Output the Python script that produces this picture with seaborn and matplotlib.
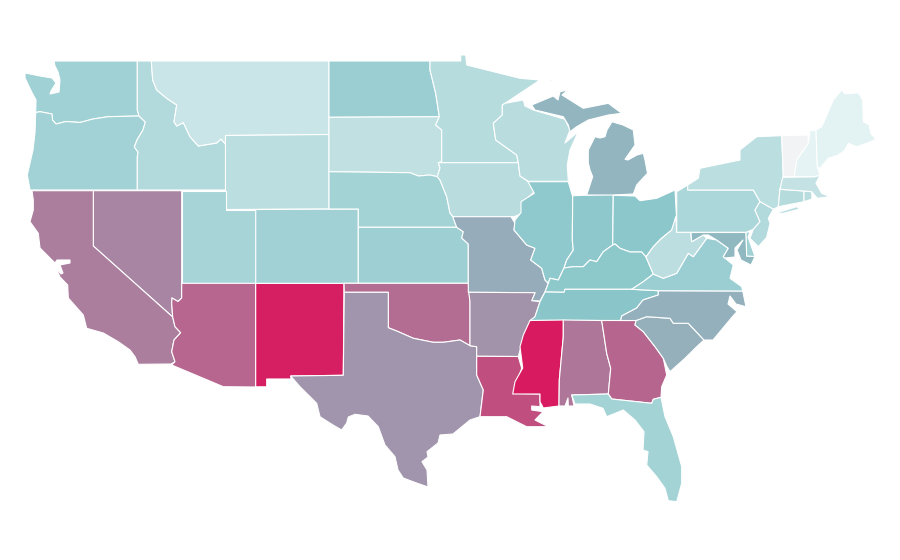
import matplotlib
matplotlib.use("Agg")
import matplotlib.pyplot as plt
import numpy as np
import seaborn as sns
from matplotlib.collections import PolyCollection
from matplotlib.colors import Normalize

# state value, 0-100 index read from the fill colours (VT has no value, drawn grey)
values = {
    "WA": 40.6, "OR": 39.7, "ID": 33, "MT": 23, "WY": 29, "UT": 38, "NV": 69, "CA": 71, "AZ": 78,
    "NM": 98.5, "CO": 40, "ND": 42.7, "SD": 27, "NE": 39, "KS": 42, "OK": 76, "TX": 64.3,
    "MN": 31, "IA": 30, "MO": 57.6, "AR": 65, "LA": 84.5, "WI": 30, "IL": 47.4, "IN": 48,
    "MI": 55, "OH": 49, "KY": 48.7, "TN": 50, "MS": 100, "AL": 73.4, "GA": 78.4, "FL": 39,
    "SC": 57, "NC": 56.4, "VA": 42.7, "WV": 28.6, "MD": 54, "DE": 40.6, "PA": 35.5, "NY": 29,
    "NJ": 33, "CT": 32, "RI": 30, "MA": 25, "VT": np.nan, "NH": 10.7, "ME": 12,
}

# state outlines in map units (y runs downward)
outlines = {
    "WA": [[(54,61),(137.3,61),(137.3,110),(139,116),(108,116.7),(93,119),(80,122.5),(66,121.5),(56,124),(52.5,120),(52,114),(40,111.7),(35.7,112.5),(36,100),(31.7,92),(25,78),(25,73),(40,76),(52,78),(56,83),(51,91),(50,94),(59,92),(60,80),(58,72),(55,66)]],
    "OR": [[(35.7,112.5),(40,111.7),(52,114),(52.5,120),(56,124),(66,121.5),(80,122.5),(93,119),(108,116.7),(139,116),(145.3,122),(143,130),(137,140),(134.3,147),(138,152),(137.3,157),(137.3,190),(30,190),(27.3,175),(30,163),(33,150),(35,133)]],
    "ID": [[(137.3,61),(151.3,61),(152.7,80),(156.7,90),(166.7,98.3),(176.7,105),(174,121.7),(176.7,126),(183.3,122.7),(190,136.7),(198.3,146),(216.7,143),(221,139),(225.5,144.3),(225.5,190),(137.3,190),(137.3,157),(138,152),(134.3,147),(137,140),(143,130),(145.3,122),(139,116),(137.3,110)]],
    "MT": [[(151.3,61),(329,61),(329,134.5),(225.5,135.5),(225.5,144.3),(221,139),(216.7,143),(198.3,146),(190,136.7),(183.3,122.7),(176.7,126),(174,121.7),(176.7,105),(166.7,98.3),(156.7,90),(152.7,80)]],
    "WY": [[(225.5,135.5),(329,134.5),(329,209),(225.5,209.5)]],
    "UT": [[(181.7,190.5),(225.5,190.5),(225.5,209.5),(255.7,209.5),(255.7,283.3),(181.7,283.3)]],
    "NV": [[(93.3,190.7),(181.7,190.7),(181.7,298),(178,301.5),(172,298),(171.7,303.3),(172.7,317),(93.3,246)]],
    "CA": [[(32,190.7),(93.3,190.7),(93.3,246),(172.7,317),(175,326.7),(180.7,332.7),(174,340),(171.7,351.7),(175,361.7),(171,364),(138.3,364.3),(135,356.7),(130,350),(118.3,341.7),(103.3,333),(86.7,328.3),(83.3,315),(68.3,298),(67.7,285),(60,277),(56,268),(61,274),(63,273),(60,265),(70,263),(70,260),(57,260),(55,263),(40,248),(38.3,233.3),(30,221.7),(33.3,210),(33.3,200)]],
    "AZ": [[(181.7,283.3),(255.7,283.3),(255.7,387),(223.3,386.7),(171.7,365),(175,361.7),(171.7,351.7),(174,340),(180.7,332.7),(175,326.7),(172.7,317),(171.7,303.3),(172,298),(178,301.5),(181.7,298)]],
    "NM": [[(255.7,283.3),(344,283.3),(343.3,375.3),(290.7,376),(291,379),(266.7,379),(266.7,386.8),(255.7,386.8)]],
    "CO": [[(255.7,209.5),(358.3,209),(358.3,283.3),(255.7,283.3)]],
    "ND": [[(329,61),(430,61),(430,70),(435.7,93.3),(439.3,116.7),(329,117.3)]],
    "SD": [[(329,117.3),(439.3,116.7),(435.7,125),(441.7,130),(441.7,161.7),(438.3,162.7),(440,168),(437.3,176.7),(430,175),(418.3,176),(410,172.7),(329,171.7)]],
    "NE": [[(329,171.7),(410,172.7),(418.3,176),(430,175),(437.3,176.7),(440,180),(446.7,196.7),(450,213),(453,216.7),(456.7,227.3),(358.3,227.3),(358.3,209),(329,209)]],
    "KS": [[(358.3,227.3),(456.7,227.3),(463.3,231.7),(461.7,238),(468.3,244),(468.3,283.3),(358.3,283.3)]],
    "OK": [[(344,283.3),(468.3,283.3),(470,301.7),(470,345.7),(460,340),(443.3,342.3),(433.3,342.3),(413.3,338.3),(398.3,331.7),(388.3,327.7),(388.3,292.3),(344.3,292.3)]],
    "TX": [[(344.3,292.3),(388.3,292.3),(388.3,327.7),(398.3,331.7),(413.3,338.3),(433.3,342.3),(443.3,342.3),(460,340),(470,345.7),(476.7,346.7),(476.7,375),(483.3,390),(480,416.7),(470,420),(453,434),(440,435),(438,443),(427,451.7),(428,457),(422,461.7),(427,470),(428,487),(413,481.7),(403.3,478),(398,470),(395,456.7),(385,445),(378.3,426.7),(368,416),(355,414.3),(348.3,417),(346.7,423),(341.7,430),(333,425),(320,416.7),(316.7,403.3),(300,386.7),(290.7,376),(343.3,375.3)]],
    "MN": [[(430,61),(460.7,61),(460.7,55),(465.7,55),(466.7,65),(500,73.3),(520,78.3),(540,80),(505,103.3),(502.3,105),(502.3,115),(493.3,123.3),(495.7,140),(516.7,155),(518.3,162.7),(438.3,162.7),(441.7,161.7),(441.7,130),(435.7,125),(439.3,116.7),(435.7,93.3),(430,70)]],
    "IA": [[(438.3,162.7),(518.3,162.7),(520,176),(528.3,181.7),(534.3,191.7),(521.7,203.3),(521.7,213.3),(514.3,216.7),(453,216.7),(450,213),(446.7,196.7),(440,180),(437.3,176.7),(440,168)]],
    "MO": [[(452.7,216.7),(511,216.7),(515,223.3),(514,230),(526.7,245),(535,248.3),(530.7,260),(541.7,268.3),(545,280),(548.3,283.3),(545,292),(540,301),(531.7,300.7),(535,292.7),(468.3,292.3),(468.3,244),(461.7,238),(463.3,231.7),(456.7,227.3)]],
    "AR": [[(468.7,292.3),(535,292.7),(531.7,300.7),(540,301.7),(535,316.7),(528.3,325),(523.3,338.3),(518.3,356.5),(476.7,356.3),(476.7,346.7),(470,345.7),(470,301.7)]],
    "LA": [[(476.7,356.3),(518.3,356.5),(521.7,368.3),(513.3,393.3),(540,394),(540,406.7),(531.7,406),(531.7,410),(543,411.7),(535,420),(548.3,426.7),(526.7,426.7),(506.7,416.7),(480,416.7),(483.3,390),(476.7,375)]],
    "WI": [[(502.3,105),(505,103.3),(523.3,100),(525,106),(533.3,110),(565,119.3),(570,130),(565,143),(578.3,131.7),(570,150),(567.3,165),(568.3,181.3),(528.3,181.3),(520,176),(518.3,162.7),(516.7,155),(495.7,140),(493.3,123.3),(502.3,115)]],
    "IL": [[(528,181.7),(568.3,181.7),(572.7,196.7),(572.3,240),(573.3,250),(566.7,260),(564,268),(558.3,280),(550,278.3),(548.3,283.3),(545,280),(541.7,268.3),(530.7,260),(535,248.3),(526.7,245),(514,230),(515,220),(521,212.7),(521,201.7),(534.3,193.3)]],
    "IN": [[(572.7,195.7),(613.3,194.3),(612.7,245),(603.3,251.7),(596.7,261.7),(590,260),(583.3,266.7),(573.3,266.7),(564,268),(566.7,260),(573.3,250),(572.3,240)]],
    "MI": [[(531.7,105),(553.3,96),(558,100),(560,91.7),(568,90),(562,95),(570,100),(583.3,108.3),(608.3,103.3),(621.7,113.3),(608.3,115),(588.3,120),(576.7,126.7),(570,131.7),(568.3,125),(563.3,116.7),(535,110)],
           [(588.3,150),(595,136.7),(600,138),(605,136.7),(607,130),(612,121.7),(623,125),(633.3,130),(635,145),(625,159.3),(628,160),(637,155),(643.3,153.3),(645,160),(647.5,173.3),(643,178),(636.7,185),(633.3,194),(613.3,195),(586.7,195),(592.7,176.7),(590,170),(588.3,163)],
           [(549,81),(556,78),(556,79),(550,82)]],
    "OH": [[(613.3,195.3),(635,196),(640,200.7),(656.7,198.3),(675,190),(676.5,217),(671.7,230),(661.7,238),(653.3,246.7),(646,257),(641.7,252),(630,252),(620,248.3),(615,244),(612.7,245)]],
    "KY": [[(564,268),(573.3,266.7),(583.3,266.7),(590,260),(596.7,261.7),(603.3,251.7),(612.7,245),(615,244),(620,248.3),(630,252),(641.7,252),(646,257),(653.3,274),(643.3,281.7),(631.7,289.3),(565,289.3),(564,292.3),(545,292),(548.3,283.3),(550,278.3),(558.3,280)]],
    "TN": [[(545,292),(564,292.3),(565,289.3),(631.7,289.3),(658.3,290.7),(658.3,295),(643,300),(636.7,308),(621.7,316),(620.7,320.5),(530,320.5),(535,316.7),(540,301.7)]],
    "MS": [[(530,320.5),(563.3,320),(563.3,336.7),(559.3,380),(559,406),(543.3,408),(540,401.7),(540,394),(512.7,394),(515,381.7),(522.7,368),(520,346.7),(523.3,335)]],
    "AL": [[(563.3,320),(601.7,320.5),(606.7,353.3),(610.7,368.3),(608.3,394),(571.7,395),(574,406),(568.3,406),(568,398),(565,406),(559,406),(559.3,380),(563.3,336.7)]],
    "GA": [[(601.7,320.5),(636,320.5),(635,325),(643.3,331.7),(655,346.7),(663.3,358.3),(666.7,375),(661.7,386.7),(661,397.3),(653.3,399.3),(651.7,403.3),(611.7,399),(608.3,394),(610.7,368.3),(606.7,353.3)]],
    "FL": [[(571.7,395),(608.3,394),(611.7,399),(651.7,403.3),(653.3,399.3),(661,397.3),(665,416.7),(673.3,436.7),(681.7,466.7),(681.7,483.3),(676.7,501.7),(668.3,500.7),(665,488.3),(656.7,476.7),(646.7,465),(648,451.7),(643,450),(644,431.7),(635,420),(623.3,410),(606.7,416.7),(603,408.3),(590,404),(575,404)]],
    "SC": [[(636,320.5),(646.7,316.7),(670,318.3),(673.3,323.3),(688.3,323.3),(704,340),(696.7,346.7),(685,358.3),(670,371.7),(666.7,366),(663.3,358.3),(655,346.7),(643.3,331.7),(635,325)]],
    "NC": [[(658.3,290.7),(742.7,291),(746,306.7),(736,304),(730,296),(728,304),(737,311.7),(733,316),(713,340),(704,340),(688.3,323.3),(673.3,323.3),(670,318.3),(646.7,316.7),(636,320.5),(620.7,320.5),(621.7,316),(636.7,308),(643,300),(658.3,295)]],
    "VA": [[(631.7,289.3),(643.3,281.7),(653.3,274),(663.3,278.3),(676.7,273.3),(688.3,253.3),(693.3,256.7),(706.7,238.3),(716.7,240),(728.3,248.3),(723.3,256.7),(733.3,265),(730,278.3),(741.7,286.7),(742.7,291),(658.3,290.7)]],
    "WV": [[(675.7,216.7),(676.7,232.3),(690.7,232.3),(691.7,241.7),(703.3,235),(706.7,238.3),(693.3,256.7),(688.3,253.3),(676.7,273.3),(663.3,278.3),(653.3,274),(646,257),(653.3,246.7),(661.7,238.3),(671.7,230)]],
    "MD": [[(691,232.5),(746,232.5),(746.7,256),(755,256.5),(751,265),(741,260),(737,250),(743,240),(735,248),(735,257),(725,258),(723.3,256.7),(728.3,248.3),(716.7,240),(708.3,235),(703.3,235),(691.7,241.7)]],
    "DE": [[(746,232),(750,232),(748,237),(755,256.5),(746.7,256)]],
    "PA": [[(676.7,191.7),(687.7,185),(687.7,190),(753.3,190),(760,201.7),(755,210),(760,221.7),(753.3,229.3),(746,232.3),(676.7,232.3)]],
    "NY": [[(687.7,190),(687.7,185),(698.3,178.3),(700,168.3),(740,160),(740,150),(756.7,136.7),(781.7,135.7),(783.3,176.7),(780,189.3),(778.3,206.7),(773.3,209.3),(760,201.7),(753.3,190)],
           [(775,213.3),(796.7,206.7),(800,209),(783.3,213.3)]],
    "NJ": [[(760,201.7),(773.3,209.3),(768.3,218.3),(770,223.3),(766.7,237.3),(758.3,246.7),(750,238.3),(753.3,229.3),(760,221.7),(755,210)]],
    "CT": [[(780,189.3),(804,191),(804,201.7),(778.3,206.7)]],
    "RI": [[(804,191),(811.7,191.7),(812,199),(804,201.7)]],
    "MA": [[(782.7,177.3),(815,176.7),(820,175),(816,183.3),(821.7,193.3),(830,196.7),(817.3,198.3),(811.7,191.7),(804,191),(780,189.3)]],
    "VT": [[(781.7,135.7),(808.3,135),(808.3,143.3),(796.7,160),(794.3,176.7),(783.3,176.7)]],
    "NH": [[(810,130.7),(816,130),(817.3,166.7),(820,175),(815,176.7),(794.3,176.7),(796.7,160),(808.3,143.3)]],
    "ME": [[(816,130),(821.7,126.7),(828.3,111.7),(833.3,100),(841.7,90),(845,94),(858.3,92.7),(862.7,100),(863.3,121.7),(869.3,125),(870.7,133.3),(876,139.3),(866.7,143.3),(856.7,146.7),(848.3,143.3),(845,150),(838.3,155),(828.3,158.3),(820,168.3),(817.3,166.7)]],
}

# scale runs white -> teal -> crimson
scale_colors = ["#ffffff", "#8ac6ca", "#d81b60"]
missing_color = "#f2f3f5"

sns.set_theme(style="white")
cmap = sns.blend_palette(scale_colors, as_cmap=True)
cmap.set_bad(missing_color)

shapes = []
shape_values = []
for state, parts in outlines.items():
    for part in parts:
        shapes.append(part)
        shape_values.append(values[state])

fig, ax = plt.subplots(figsize=(9, 5.6), dpi=100)
fig.subplots_adjust(left=0, right=1, bottom=0, top=1)
coll = PolyCollection(shapes, array=np.ma.masked_invalid(shape_values), cmap=cmap,
                      norm=Normalize(0, 100), edgecolors="white", linewidths=0.8)
ax.add_collection(coll)
ax.set_xlim(0, 900)
ax.set_ylim(560, 0)
ax.axis("off")

fig.savefig("out.png", dpi=100, facecolor="white")
